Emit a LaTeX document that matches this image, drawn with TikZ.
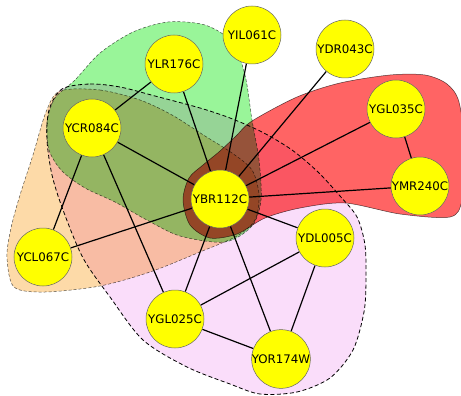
\documentclass[tikz,border=0pt]{standalone}
\usepackage{fontspec}
\setmainfont{DejaVu Sans}
\usepackage{tikz}
\usetikzlibrary{calc}
\definecolor{hgreen}{RGB}{153,245,153}
\definecolor{hpeach}{RGB}{253,218,168}
\definecolor{hred}{RGB}{255,100,100}
\definecolor{hpink}{RGB}{250,221,250}
\definecolor{nyellow}{RGB}{255,255,0}
\pgfdeclarelayer{hulls}
\pgfdeclarelayer{links}
\pgfsetlayers{hulls,links,main}

\begin{document}
\begin{tikzpicture}[x=1pt, y=-1pt, prot/.style={draw=gray!80!black, line width=0.5pt, circle, fill=nyellow, minimum size=58pt, inner sep=0pt, font=\fontsize{11.8}{14}\selectfont}, hull/.style={blend mode=multiply, draw=gray!70!black, line width=0.5pt, dash pattern=on 3pt off 2pt}, lnk/.style={line width=1.2pt}]
\useasboundingbox (0,0) rectangle (461,396);
% proteins
\node[prot] (YLR176C) at (174,64) {YLR176C};
\node[prot] (YIL061C) at (252,35) {YIL061C};
\node[prot] (YDR043C) at (345,49) {YDR043C};
\node[prot] (YCR084C) at (92,128) {YCR084C};
\node[prot] (YGL035C) at (396,109) {YGL035C};
\node[prot] (YMR240C) at (420,186) {YMR240C};
\node[prot] (YBR112C) at (220,199) {YBR112C};
\node[prot] (YCL067C) at (43,257) {YCL067C};
\node[prot] (YDL005C) at (325,238) {YDL005C};
\node[prot] (YGL025C) at (175,319) {YGL025C};
\node[prot] (YOR174W) at (281,359) {YOR174W};
% interactions
\begin{pgfonlayer}{links}
\foreach \a/\b in {YLR176C/YCR084C, YLR176C/YBR112C, YCR084C/YBR112C, YCR084C/YCL067C, YCR084C/YGL025C, YIL061C/YBR112C, YDR043C/YBR112C, YGL035C/YBR112C, YGL035C/YMR240C, YMR240C/YBR112C, YBR112C/YCL067C, YBR112C/YGL025C, YBR112C/YDL005C, YBR112C/YOR174W, YGL025C/YDL005C, YGL025C/YOR174W, YDL005C/YOR174W}{\draw[lnk] (\a) -- (\b);}
\end{pgfonlayer}
% complexes
\begin{pgfonlayer}{hulls}
\filldraw[hull, fill=hgreen] plot[smooth cycle] coordinates {(75,80) (100,53) (133,32) (168,22) (205,25) (232,42) (245,75) (252,120) (259,160) (261,200) (252,226) (225,242) (180,236) (145,219) (115,202) (85,188) (62,171) (49,150) (47,122) (55,98)};
\filldraw[hull, fill=hpeach] plot[smooth cycle] coordinates {(60,91) (100,90) (140,100) (172,115) (205,136) (232,153) (252,170) (259,195) (255,220) (237,236) (200,252) (150,272) (100,286) (45,292) (14,287) (7,257) (11,228) (20,195) (33,155) (46,112)};
\filldraw[hull, fill=hred, solid] plot[smooth cycle] coordinates {(252,121) (297,97) (340,83) (390,75) (425,75) (447,84) (459,102) (465,150) (462,200) (450,217) (400,214) (345,203) (300,208) (265,218) (237,234) (210,238) (190,225) (183,200) (189,178) (203,165) (220,151) (236,136)};
\filldraw[hull, fill=hpink, draw=black, line width=0.8pt, dash pattern=on 4pt off 2.5pt] plot[smooth cycle] coordinates {(62,89) (90,84) (120,87) (155,96) (200,108) (230,118) (262,132) (292,150) (318,172) (340,196) (357,217) (365,245) (366,280) (364,312) (353,350) (330,378) (297,392) (260,394) (230,384) (187,367) (143,340) (110,297) (83,258) (63,210) (52,175) (47,140) (49,110)};
\end{pgfonlayer}
\end{tikzpicture}
\end{document}
